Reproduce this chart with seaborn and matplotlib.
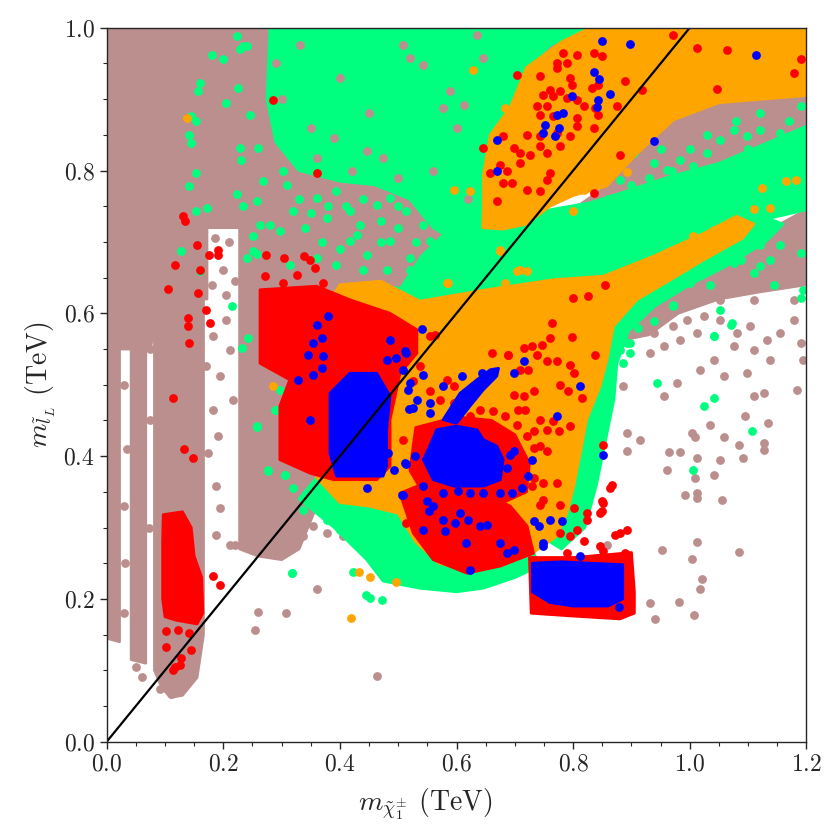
import pandas as pd
import matplotlib
matplotlib.use('Agg')
import matplotlib.pyplot as plt
import seaborn as sns
from matplotlib.ticker import MultipleLocator

# colours of the point classes
BROWN = '#bc8f8f'
GREEN = '#00ff7f'
ORANGE = '#ffa500'
RED = '#ff0000'
BLUE = '#0000ff'

# --- dense regions (outline of the point clouds), in TeV ---
brown_upper = [(0.0, 0.55), (0.0, 1.0), (0.80, 1.0), (0.70, 0.85), (0.60, 0.70), (0.52, 0.60),
               (0.45, 0.45), (0.40, 0.40), (0.36, 0.33), (0.33, 0.27), (0.30, 0.255),
               (0.26, 0.26), (0.228, 0.27), (0.228, 0.72), (0.172, 0.72), (0.172, 0.62),
               (0.09, 0.62), (0.075, 0.55)]
brown_strip1 = [(0.0, 0.145), (0.022, 0.14), (0.022, 0.62), (0.0, 0.62)]
brown_strip2 = [(0.042, 0.115), (0.067, 0.11), (0.067, 0.62), (0.042, 0.62)]
brown_column = [(0.082, 0.10), (0.095, 0.075), (0.11, 0.062), (0.13, 0.065), (0.155, 0.09),
                (0.166, 0.15), (0.166, 0.62), (0.082, 0.62)]
brown_right = [(0.79, 0.74), (0.88, 0.768), (0.96, 0.79), (1.05, 0.81), (1.2, 0.862), (1.2, 0.91),
               (1.05, 0.895), (0.972, 0.871), (0.91, 0.824), (0.857, 0.778)]
brown_lowright = [(0.87, 0.56), (0.90, 0.60), (0.95, 0.635), (1.02, 0.665), (1.11, 0.705),
                  (1.2, 0.745), (1.2, 0.64), (1.12, 0.63), (1.05, 0.62), (0.98, 0.60), (0.93, 0.57)]

green_cloud = [(0.28, 1.0), (0.82, 1.0), (0.76, 0.975), (0.72, 0.944), (0.69, 0.89), (0.655, 0.85),
               (0.646, 0.794), (0.645, 0.72), (0.60, 0.70), (0.56, 0.72), (0.52, 0.76),
               (0.46, 0.78), (0.40, 0.785), (0.33, 0.80), (0.29, 0.84), (0.275, 0.9)]
green_band = [(0.50, 0.63), (0.54, 0.68), (0.59, 0.72), (0.64, 0.735), (0.70, 0.725), (0.76, 0.745),
              (0.83, 0.755), (0.88, 0.768), (0.96, 0.79), (1.05, 0.81), (1.2, 0.862), (1.2, 0.745),
              (1.05, 0.717), (0.94, 0.675), (0.82, 0.638), (0.71, 0.61), (0.60, 0.60), (0.52, 0.60)]
green_edge = [(0.78, 0.27), (0.82, 0.30), (0.84, 0.36), (0.855, 0.42), (0.87, 0.48), (0.875, 0.53),
              (0.895, 0.575), (0.94, 0.61), (1.0, 0.64), (1.06, 0.665), (1.13, 0.70), (1.16, 0.725),
              (1.11, 0.74), (1.02, 0.70), (0.92, 0.655), (0.86, 0.60), (0.83, 0.5), (0.81, 0.42),
              (0.79, 0.35), (0.76, 0.28)]
green_low = [(0.33, 0.34), (0.39, 0.30), (0.446, 0.255), (0.474, 0.225), (0.537, 0.215), (0.60, 0.21),
             (0.646, 0.215), (0.70, 0.23), (0.74, 0.245), (0.72, 0.30), (0.60, 0.33), (0.48, 0.35),
             (0.40, 0.37), (0.36, 0.37)]

orange_upper = [(0.83, 1.0), (1.2, 1.0), (1.2, 0.905), (1.05, 0.895), (0.972, 0.871), (0.91, 0.824),
                (0.857, 0.778), (0.80, 0.765), (0.76, 0.75), (0.72, 0.725), (0.68, 0.718),
                (0.645, 0.72), (0.646, 0.75), (0.646, 0.794), (0.658, 0.85), (0.692, 0.888),
                (0.72, 0.944), (0.78, 0.98)]
orange_low = [(0.36, 0.37), (0.40, 0.335), (0.45, 0.33), (0.50, 0.32), (0.53, 0.28), (0.57, 0.25),
              (0.62, 0.24), (0.675, 0.25), (0.73, 0.264), (0.772, 0.288), (0.789, 0.32),
              (0.801, 0.358), (0.812, 0.404), (0.823, 0.451), (0.846, 0.498), (0.858, 0.535),
              (0.869, 0.582), (0.909, 0.619), (0.967, 0.647), (1.024, 0.675), (1.09, 0.705),
              (1.11, 0.725), (1.08, 0.736), (1.024, 0.712), (0.938, 0.68), (0.852, 0.652),
              (0.766, 0.647), (0.652, 0.633), (0.537, 0.617), (0.47, 0.645), (0.40, 0.64), (0.37, 0.60)]

red_cluster = [(0.263, 0.633), (0.36, 0.638), (0.417, 0.619), (0.486, 0.600), (0.532, 0.577),
               (0.532, 0.544), (0.503, 0.516), (0.486, 0.451), (0.486, 0.386), (0.463, 0.367),
               (0.389, 0.367), (0.349, 0.376), (0.297, 0.395), (0.297, 0.470), (0.314, 0.507),
               (0.263, 0.530), (0.263, 0.577)]
red_column = [(0.097, 0.318), (0.13, 0.322), (0.145, 0.30), (0.150, 0.26), (0.163, 0.23),
              (0.165, 0.18), (0.155, 0.165), (0.12, 0.17), (0.10, 0.175), (0.096, 0.2), (0.096, 0.28)]
red_low = [(0.503, 0.348), (0.56, 0.367), (0.646, 0.348), (0.692, 0.33), (0.721, 0.302),
           (0.732, 0.264), (0.675, 0.246), (0.618, 0.236), (0.56, 0.255), (0.526, 0.292)]
red_mid = [(0.53, 0.44), (0.60, 0.455), (0.66, 0.45), (0.70, 0.43), (0.725, 0.39), (0.72, 0.35),
           (0.68, 0.335), (0.60, 0.335), (0.545, 0.345), (0.52, 0.38)]
red_box = [(0.725, 0.258), (0.80, 0.258), (0.86, 0.262), (0.90, 0.265), (0.905, 0.21),
           (0.905, 0.18), (0.88, 0.172), (0.80, 0.176), (0.728, 0.18)]

blue_left = [(0.417, 0.516), (0.463, 0.516), (0.486, 0.484), (0.480, 0.437), (0.480, 0.386),
             (0.474, 0.372), (0.394, 0.372), (0.383, 0.404), (0.383, 0.488), (0.406, 0.507)]
blue_mid = [(0.554, 0.414), (0.566, 0.437), (0.600, 0.442), (0.635, 0.437), (0.646, 0.423),
            (0.669, 0.414), (0.680, 0.395), (0.675, 0.367), (0.646, 0.358), (0.595, 0.358),
            (0.560, 0.367), (0.543, 0.395)]
blue_arm = [(0.577, 0.451), (0.606, 0.488), (0.635, 0.507), (0.658, 0.521), (0.672, 0.523),
            (0.669, 0.512), (0.646, 0.493), (0.623, 0.470), (0.600, 0.446)]
blue_box = [(0.73, 0.25), (0.78, 0.252), (0.83, 0.25), (0.885, 0.248), (0.885, 0.2), (0.86, 0.19),
            (0.80, 0.19), (0.76, 0.195), (0.73, 0.21)]

# --- single points outside / on top of the dense regions ---
brown_pts = [(0.892, 0.432), (0.915, 0.422), (0.892, 0.407), (0.964, 0.406), (0.984, 0.406),
             (0.961, 0.381), (1.004, 0.433), (1.009, 0.427), (1.035, 0.444), (1.058, 0.427),
             (1.084, 0.415), (1.092, 0.397), (1.052, 0.395), (1.012, 0.397), (1.009, 0.369),
             (1.041, 0.374), (0.992, 0.345), (1.012, 0.348), (1.012, 0.341), (1.055, 0.339),
             (1.127, 0.409), (1.127, 0.418), (1.135, 0.447), (1.012, 0.280), (0.952, 0.269),
             (1.004, 0.256), (1.084, 0.266), (1.021, 0.228), (1.018, 0.214), (0.931, 0.194),
             (0.981, 0.196), (1.007, 0.178), (0.941, 0.172), (0.858, 0.276),
             (0.938, 0.572), (0.955, 0.554), (0.932, 0.544), (0.972, 0.582), (0.995, 0.591),
             (0.984, 0.563), (1.012, 0.572), (1.024, 0.596), (1.052, 0.591), (1.081, 0.572),
             (1.104, 0.582), (1.110, 0.549), (1.133, 0.563), (1.155, 0.572), (1.178, 0.591),
             (1.190, 0.558), (1.195, 0.535), (1.138, 0.535), (1.075, 0.554), (1.041, 0.535),
             (1.058, 0.512), (1.098, 0.516), (1.110, 0.484), (1.127, 0.488), (1.184, 0.493),
             (1.018, 0.521), (0.978, 0.502), (0.955, 0.484), (0.886, 0.498), (1.095, 0.456),
             (1.178, 0.619), (1.144, 0.647), (1.110, 0.619), (1.052, 0.619), (1.012, 0.619),
             (0.938, 0.600),
             (0.360, 0.214), (0.260, 0.181), (0.307, 0.180), (0.255, 0.157), (0.464, 0.092),
             (0.051, 0.105), (0.187, 0.358), (0.194, 0.327), (0.211, 0.276), (0.220, 0.276),
             (0.187, 0.290), (0.174, 0.404), (0.191, 0.428), (0.111, 0.067), (0.091, 0.074),
             (0.183, 0.568), (0.211, 0.549), (0.171, 0.526), (0.194, 0.512), (0.217, 0.479),
             (0.183, 0.465), (0.205, 0.591), (0.18, 0.64), (0.20, 0.66), (0.21, 0.70),
             (0.185, 0.705), (0.22, 0.645), (0.205, 0.625),
             (0.030, 0.18), (0.032, 0.25), (0.030, 0.33), (0.034, 0.41), (0.030, 0.50),
             (0.033, 0.57), (0.072, 0.30), (0.074, 0.45), (0.075, 0.55), (0.060, 0.09),
             (0.337, 0.288), (0.354, 0.302), (0.377, 0.292), (0.406, 0.288), (0.297, 0.274),
             (0.303, 0.292), (0.274, 0.311), (0.257, 0.288), (0.474, 0.241), (0.463, 0.255),
             (0.497, 0.236)]
brown_patch_pts = [(0.520, 0.958), (0.543, 0.948), (0.589, 0.911), (0.612, 0.892), (0.577, 0.888),
                   (0.446, 0.827), (0.474, 0.818), (0.389, 0.846), (0.360, 0.818), (0.331, 0.976),
                   (0.646, 0.958), (0.635, 0.990), (0.509, 0.976), (0.30, 0.90), (0.29, 0.95),
                   (0.42, 0.80), (0.50, 0.79), (0.56, 0.80), (0.62, 0.76), (0.60, 0.86),
                   (0.40, 0.93), (0.45, 0.88), (0.35, 0.86)]
green_pts = [(1.107, 0.435), (1.005, 0.380), (0.972, 0.610), (1.041, 0.568), (0.944, 0.502),
             (1.024, 0.470), (1.041, 0.481), (1.070, 0.584), (1.121, 0.666), (1.087, 0.675),
             (1.195, 0.633), (0.892, 0.558), (0.898, 0.544), (0.886, 0.530),
             (0.318, 0.236), (0.423, 0.238), (0.444, 0.206), (0.451, 0.201), (0.473, 0.198),
             (0.277, 0.380), (0.306, 0.374), (0.257, 0.441),
             (0.223, 0.988), (0.228, 0.970), (0.234, 0.975), (0.240, 0.975), (0.181, 0.962),
             (0.200, 0.956), (0.160, 0.922), (0.156, 0.912), (0.225, 0.915), (0.205, 0.894),
             (0.145, 0.876), (0.154, 0.869), (0.142, 0.850), (0.145, 0.838), (0.245, 0.878),
             (0.228, 0.831), (0.231, 0.815), (0.260, 0.831), (0.154, 0.797), (0.142, 0.779),
             (0.224, 0.767), (0.172, 0.747), (0.154, 0.743), (0.234, 0.750), (0.257, 0.757),
             (0.251, 0.708), (0.128, 0.687), (0.240, 0.677), (0.257, 0.683), (0.160, 0.659),
             (0.215, 0.610), (0.243, 0.565), (0.232, 0.551), (0.290, 0.465),
             (1.121, 0.696), (1.138, 0.675), (1.155, 0.696), (1.110, 0.656), (1.075, 0.670),
             (1.052, 0.673), (1.035, 0.640), (1.001, 0.642), (0.972, 0.612), (1.052, 0.605),
             (1.072, 0.586), (1.041, 0.568), (0.938, 0.589), (0.912, 0.579), (0.898, 0.558),
             (0.881, 0.549), (1.144, 0.640), (1.190, 0.684), (1.190, 0.621),
             (0.904, 0.824), (0.938, 0.810), (0.961, 0.801), (0.984, 0.815), (1.006, 0.806),
             (1.030, 0.824), (1.052, 0.843), (1.075, 0.857), (1.098, 0.848), (1.121, 0.857),
             (1.155, 0.853), (0.881, 0.787), (0.927, 0.773), (0.995, 0.782), (1.018, 0.792),
             (0.83, 0.75), (0.86, 0.76), (0.90, 0.78), (0.93, 0.79), (0.97, 0.80), (1.00, 0.83),
             (1.03, 0.85), (1.08, 0.87), (1.12, 0.88), (1.17, 0.87), (1.19, 0.89), (0.95, 0.83),
             (1.10, 0.83), (1.15, 0.84),
             (0.268, 0.785), (0.303, 0.799), (0.320, 0.743), (0.263, 0.724), (0.280, 0.724),
             (0.297, 0.715), (0.360, 0.761), (0.377, 0.733), (0.394, 0.771), (0.417, 0.743),
             (0.434, 0.724), (0.463, 0.752), (0.486, 0.761), (0.514, 0.743), (0.543, 0.724),
             (0.566, 0.752), (0.589, 0.771), (0.612, 0.724), (0.417, 0.701), (0.446, 0.682),
             (0.486, 0.701), (0.520, 0.677), (0.555, 0.701), (0.360, 0.677), (0.314, 0.668),
             (0.251, 0.687), (0.394, 0.668), (0.566, 0.664), (0.600, 0.677), (0.618, 0.743),
             (0.44, 0.76), (0.47, 0.73), (0.50, 0.75), (0.53, 0.77), (0.55, 0.74), (0.58, 0.73),
             (0.60, 0.75), (0.63, 0.70), (0.60, 0.66), (0.57, 0.69), (0.53, 0.70), (0.50, 0.72),
             (0.47, 0.70), (0.43, 0.71), (0.41, 0.75), (0.38, 0.75), (0.35, 0.74), (0.33, 0.76),
             (0.31, 0.78), (0.40, 0.69), (0.37, 0.70), (0.34, 0.72), (0.44, 0.66), (0.48, 0.66),
             (0.52, 0.66), (0.55, 0.67),
             (0.257, 0.442), (0.297, 0.493), (0.288, 0.465), (0.277, 0.379), (0.306, 0.374),
             (0.320, 0.355), (0.337, 0.325), (0.377, 0.311), (0.400, 0.297), (0.317, 0.236),
             (0.429, 0.638), (0.463, 0.626), (0.497, 0.633)]
orange_pts = [(0.137, 0.873), (0.286, 0.498), (0.629, 0.941), (0.683, 0.888), (0.595, 0.773),
              (0.623, 0.772), (0.675, 0.687), (0.703, 0.659), (0.720, 0.659), (0.583, 0.642),
              (0.419, 0.173), (0.433, 0.238), (0.451, 0.231), (0.497, 0.224),
              (0.709, 0.661), (0.586, 0.642), (0.683, 0.642), (1.124, 0.775),
              (1.165, 0.785), (1.182, 0.787), (1.110, 0.746), (1.138, 0.747), (1.064, 0.717),
              (1.041, 0.717), (1.052, 0.705), (1.006, 0.708), (1.024, 0.705), (0.675, 0.689),
              (0.800, 0.743), (0.818, 0.773), (0.892, 0.798)]
red_pts = [(0.783, 0.965), (0.806, 0.962), (0.835, 0.965), (0.849, 0.960), (0.772, 0.951),
           (0.789, 0.951), (0.772, 0.944), (0.703, 0.934), (0.743, 0.932), (0.795, 0.930),
           (0.798, 0.920), (0.760, 0.913), (0.778, 0.911), (0.749, 0.906), (0.766, 0.904),
           (0.789, 0.902), (0.806, 0.899), (0.832, 0.916), (0.843, 0.920), (0.738, 0.890),
           (0.755, 0.890), (0.818, 0.890), (0.838, 0.888), (0.743, 0.878), (0.766, 0.876),
           (0.806, 0.874), (0.843, 0.878), (0.875, 0.890), (0.889, 0.925), (0.918, 0.913),
           (0.972, 0.990), (1.012, 0.971), (1.064, 0.969), (1.190, 0.956), (1.178, 0.937),
           (1.047, 0.914), (0.720, 0.850), (0.743, 0.848), (0.772, 0.853), (0.795, 0.848),
           (0.835, 0.860), (0.806, 0.862), (0.646, 0.831), (0.680, 0.848), (0.698, 0.832),
           (0.709, 0.825), (0.726, 0.822), (0.743, 0.834), (0.755, 0.825), (0.778, 0.834),
           (0.675, 0.808), (0.658, 0.797), (0.686, 0.799), (0.709, 0.811), (0.680, 0.782),
           (0.695, 0.782), (0.720, 0.773), (0.743, 0.771), (0.755, 0.787), (0.761, 0.797),
           (0.669, 0.757), (0.881, 0.822), (0.835, 0.769),
           (0.854, 0.640), (0.826, 0.624), (0.800, 0.621), (0.763, 0.587), (0.798, 0.567),
           (0.729, 0.554), (0.715, 0.552), (0.738, 0.542), (0.688, 0.542), (0.555, 0.568),
           (0.563, 0.569),
           (0.286, 0.899), (0.361, 0.797), (0.131, 0.736), (0.134, 0.729), (0.155, 0.696),
           (0.118, 0.668), (0.160, 0.661), (0.176, 0.681), (0.191, 0.689), (0.191, 0.682),
           (0.105, 0.634), (0.157, 0.628), (0.171, 0.605), (0.177, 0.587), (0.140, 0.593),
           (0.140, 0.582), (0.142, 0.558), (0.114, 0.481), (0.274, 0.682), (0.304, 0.677),
           (0.338, 0.680), (0.348, 0.675), (0.271, 0.652), (0.303, 0.642), (0.326, 0.654),
           (0.357, 0.663), (0.371, 0.642),
           (0.182, 0.232), (0.194, 0.219), (0.133, 0.410), (0.148, 0.397),
           (0.102, 0.155), (0.122, 0.156), (0.101, 0.133), (0.142, 0.152), (0.144, 0.129),
           (0.128, 0.117), (0.117, 0.105), (0.125, 0.108), (0.114, 0.100),
           (0.761, 0.565), (0.746, 0.556), (0.660, 0.544), (0.689, 0.542), (0.755, 0.533),
           (0.709, 0.521), (0.723, 0.521), (0.772, 0.533), (0.795, 0.528), (0.838, 0.542),
           (0.801, 0.516), (0.778, 0.500), (0.792, 0.491), (0.815, 0.481), (0.698, 0.486),
           (0.715, 0.484), (0.732, 0.491), (0.640, 0.465), (0.663, 0.463), (0.683, 0.456),
           (0.706, 0.465), (0.718, 0.465), (0.703, 0.444), (0.743, 0.451), (0.766, 0.449),
           (0.795, 0.442), (0.755, 0.437), (0.775, 0.435), (0.732, 0.435), (0.720, 0.428),
           (0.743, 0.414), (0.755, 0.407), (0.732, 0.411), (0.703, 0.386), (0.732, 0.369),
           (0.749, 0.362), (0.772, 0.362), (0.729, 0.358), (0.749, 0.339), (0.743, 0.332),
           (0.778, 0.332), (0.801, 0.327), (0.823, 0.320), (0.846, 0.320), (0.852, 0.334),
           (0.806, 0.297), (0.823, 0.311), (0.778, 0.292), (0.795, 0.288), (0.789, 0.264),
           (0.818, 0.281), (0.657, 0.404), (0.652, 0.390), (0.669, 0.381), (0.623, 0.456),
           (0.595, 0.474), (0.572, 0.479), (0.554, 0.491), (0.583, 0.507), (0.595, 0.498),
           (0.537, 0.526), (0.526, 0.505), (0.509, 0.423), (0.514, 0.306), (0.554, 0.390),
           (0.572, 0.386),
           (0.872, 0.290), (0.881, 0.292), (0.892, 0.297), (0.846, 0.274), (0.852, 0.267),
           (0.889, 0.264), (0.841, 0.257), (0.864, 0.355), (0.866, 0.360), (0.849, 0.337),
           (0.849, 0.323), (0.852, 0.416)]
blue_pts = [(0.849, 0.981), (0.897, 0.977), (0.835, 0.938), (0.845, 0.928), (0.798, 0.904),
            (0.843, 0.899), (0.841, 0.889), (0.864, 0.907), (0.772, 0.878), (0.783, 0.881),
            (0.752, 0.864), (0.775, 0.859), (0.749, 0.853), (0.769, 0.848), (0.669, 0.843),
            (0.669, 0.799), (0.938, 0.841), (1.114, 0.962),
            (0.360, 0.584), (0.380, 0.596), (0.369, 0.565), (0.354, 0.558), (0.346, 0.542),
            (0.371, 0.540), (0.369, 0.523), (0.328, 0.507), (0.354, 0.514), (0.349, 0.451),
            (0.486, 0.563), (0.480, 0.535), (0.497, 0.537), (0.512, 0.547), (0.540, 0.578),
            (0.509, 0.521), (0.532, 0.479), (0.526, 0.467), (0.517, 0.493), (0.543, 0.514),
            (0.483, 0.404), (0.492, 0.381), (0.512, 0.390), (0.446, 0.355), (0.509, 0.346),
            (0.397, 0.390),
            (0.514, 0.544), (0.520, 0.502), (0.519, 0.466),
            (0.554, 0.474), (0.554, 0.460), (0.577, 0.498), (0.609, 0.512), (0.643, 0.516),
            (0.715, 0.533), (0.698, 0.516), (0.812, 0.498), (0.772, 0.456), (0.729, 0.395),
            (0.723, 0.372), (0.712, 0.355), (0.695, 0.348), (0.692, 0.402), (0.698, 0.407),
            (0.686, 0.383), (0.529, 0.400), (0.514, 0.389), (0.506, 0.346), (0.543, 0.358),
            (0.549, 0.337), (0.560, 0.330), (0.552, 0.323), (0.577, 0.348), (0.603, 0.351),
            (0.623, 0.348), (0.646, 0.348), (0.675, 0.348), (0.577, 0.311), (0.597, 0.306),
            (0.620, 0.311), (0.640, 0.302), (0.652, 0.304), (0.606, 0.320), (0.543, 0.297),
            (0.580, 0.295), (0.617, 0.278), (0.675, 0.279), (0.698, 0.269), (0.686, 0.264),
            (0.623, 0.241), (0.732, 0.309), (0.741, 0.302), (0.761, 0.311), (0.781, 0.309),
            (0.749, 0.278), (0.749, 0.274), (0.812, 0.260), (0.852, 0.402),
            (0.879, 0.188)]

diag = [0.0, 1.2]

sns.set_style('ticks')
plt.rcParams.update({
    'font.family': 'serif',
    'font.serif': ['cmr10', 'DejaVu Serif'],
    'mathtext.fontset': 'cm',
    'axes.unicode_minus': False,
    'axes.formatter.use_mathtext': True,
})

fig, ax = plt.subplots(figsize=(8.4, 8.4), dpi=100)
fig.subplots_adjust(left=0.127, right=0.96, bottom=0.117, top=0.967)

layer = [1]


def regions(polys, color):
    for poly in polys:
        xs, ys = zip(*poly)
        ax.fill(xs, ys, color=color, ec=color, lw=2, joinstyle='round', zorder=layer[0])
    layer[0] += 1


def points(pts, color):
    df = pd.DataFrame(pts, columns=['x', 'y'])
    sns.scatterplot(data=df, x='x', y='y', color=color, s=40, linewidth=0, ax=ax,
                    zorder=layer[0], legend=False)
    layer[0] += 1


regions([brown_upper, brown_strip1, brown_strip2, brown_column, brown_right, brown_lowright], BROWN)
points(brown_pts, BROWN)
regions([green_cloud, green_band, green_edge, green_low], GREEN)
points(green_pts, GREEN)
points(brown_patch_pts, BROWN)
regions([orange_upper, orange_low], ORANGE)
points(orange_pts, ORANGE)
regions([red_cluster, red_column, red_low, red_mid, red_box], RED)
points(red_pts, RED)
regions([blue_left, blue_mid, blue_arm, blue_box], BLUE)
points(blue_pts, BLUE)

ax.plot(diag, diag, color='black', lw=1.6, zorder=layer[0])

ax.set_xlim(0, 1.2)
ax.set_ylim(0, 1.0)
ax.xaxis.set_major_locator(MultipleLocator(0.2))
ax.yaxis.set_major_locator(MultipleLocator(0.2))
ax.xaxis.set_minor_locator(MultipleLocator(0.05))
ax.yaxis.set_minor_locator(MultipleLocator(0.05))
ax.tick_params(which='both', direction='out', top=False, right=False, labelsize=17)
ax.tick_params(which='major', length=5, width=1)
ax.tick_params(which='minor', length=3, width=0.8)
ax.set_xlabel(r'$m_{\tilde{\chi}_1^{\pm}}$ (TeV)', fontsize=20)
ax.set_ylabel(r'$m_{\tilde{l}_L}$ (TeV)', fontsize=20)
ax.xaxis.set_label_coords(0.455, -0.063)
for sp in ax.spines.values():
    sp.set_linewidth(1.0)
    sp.set_zorder(layer[0] + 1)

plt.savefig('out.png', dpi=100)
